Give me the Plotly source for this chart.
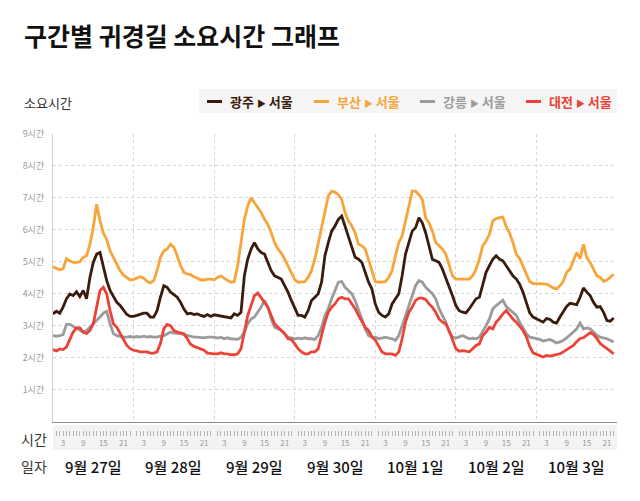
import plotly.graph_objects as go

# ---------------- data ----------------
days = ["9월 27일", "9월 28일", "9월 29일", "9월 30일", "10월 1일", "10월 2일", "10월 3일"]
hour_labels = ["3", "9", "15", "21"]
hour_label_hours = [3, 9, 15, 21]
y_ticks = [1, 2, 3, 4, 5, 6, 7, 8, 9]
y_tick_text = [f"{v}시간" for v in y_ticks]

series_names = ["광주 ▸ 서울", "부산 ▸ 서울", "강릉 ▸ 서울", "대전 ▸ 서울"]
series_colors = ["#3b1c0c", "#f7a53a", "#9b9b9b", "#eb4337"]

gwangju = [
    3.37, 3.45, 3.39, 3.58, 3.84, 3.99, 3.94, 4.06, 3.91, 4.10, 3.84, 4.51, 4.98, 5.24, 5.29, 4.88, 4.41, 4.10, 3.89, 3.73, 3.63, 3.47, 3.35, 3.29,
    3.29, 3.32, 3.35, 3.39, 3.39, 3.27, 3.27, 3.47, 3.89, 4.25, 4.20, 4.05, 3.97, 3.89, 3.73, 3.52, 3.37, 3.39, 3.35, 3.37, 3.32, 3.29, 3.35, 3.29,
    3.34, 3.32, 3.30, 3.27, 3.27, 3.24, 3.37, 3.32, 3.42, 4.56, 5.08, 5.40, 5.60, 5.40, 5.29, 5.24, 4.98, 4.72, 4.56, 4.51, 4.46, 4.25, 4.05, 3.79,
    3.53, 3.32, 3.32, 3.27, 3.47, 3.79, 3.89, 4.00, 4.36, 5.19, 5.60, 5.96, 6.12, 6.33, 6.43, 6.12, 5.81, 5.50, 5.14, 5.08, 4.98, 4.67, 4.36, 4.15,
    3.68, 3.42, 3.32, 3.27, 3.37, 3.68, 3.84, 4.00, 4.56, 5.24, 5.60, 5.96, 6.07, 6.38, 6.22, 5.91, 5.50, 5.08, 5.03, 4.98, 4.77, 4.51, 4.25, 3.94,
    3.63, 3.47, 3.42, 3.40, 3.53, 3.68, 3.84, 3.89, 4.25, 4.67, 4.88, 5.08, 5.19, 5.08, 5.03, 4.88, 4.72, 4.56, 4.46, 4.30, 4.05, 3.75, 3.40, 3.27,
    3.22, 3.16, 3.11, 3.22, 3.20, 3.11, 3.08, 3.27, 3.42, 3.60, 3.70, 3.68, 3.66, 3.89, 4.18, 4.05, 3.94, 3.73, 3.58, 3.60, 3.42, 3.16, 3.14, 3.24,
]
busan = [
    4.84, 4.80, 4.75, 4.78, 5.10, 5.03, 4.98, 4.98, 5.00, 5.14, 5.19, 5.55, 6.07, 6.80, 6.28, 5.90, 5.70, 5.34, 5.13, 4.88, 4.72, 4.58, 4.49, 4.43,
    4.45, 4.49, 4.53, 4.49, 4.39, 4.34, 4.41, 4.72, 5.14, 5.34, 5.40, 5.55, 5.45, 5.19, 4.88, 4.67, 4.62, 4.60, 4.53, 4.49, 4.43, 4.43, 4.46, 4.46,
    4.44, 4.51, 4.56, 4.48, 4.41, 4.36, 4.38, 4.88, 5.60, 6.33, 6.74, 7.00, 6.85, 6.69, 6.54, 6.33, 6.17, 5.91, 5.60, 5.40, 5.27, 5.08, 4.88, 4.67,
    4.44, 4.36, 4.36, 4.38, 4.51, 4.72, 5.08, 5.60, 6.07, 6.64, 7.06, 7.21, 7.18, 7.10, 6.95, 6.54, 6.28, 6.12, 5.91, 5.55, 5.50, 5.40, 5.08, 4.72,
    4.38, 4.36, 4.36, 4.38, 4.51, 4.72, 5.19, 5.60, 5.81, 6.33, 6.74, 7.21, 7.21, 7.10, 6.95, 6.38, 6.22, 5.96, 5.60, 5.50, 5.40, 5.24, 4.88, 4.56,
    4.46, 4.46, 4.44, 4.44, 4.46, 4.56, 4.77, 5.08, 5.50, 5.65, 5.86, 6.28, 6.35, 6.38, 6.40, 6.10, 5.90, 5.60, 5.24, 5.10, 4.85, 4.60, 4.38, 4.32,
    4.32, 4.32, 4.32, 4.30, 4.25, 4.18, 4.15, 4.25, 4.39, 4.67, 4.77, 5.03, 5.29, 5.10, 5.55, 5.13, 4.98, 4.77, 4.56, 4.51, 4.39, 4.43, 4.51, 4.61,
]
gangneung = [
    2.69, 2.67, 2.69, 2.72, 3.04, 3.04, 2.98, 2.92, 2.85, 2.80, 2.85, 2.95, 3.05, 3.15, 3.27, 3.39, 3.45, 3.06, 2.75, 2.69, 2.66, 2.64, 2.64, 2.66,
    2.64, 2.66, 2.64, 2.67, 2.64, 2.66, 2.64, 2.64, 2.67, 2.69, 2.74, 2.80, 2.77, 2.77, 2.75, 2.72, 2.69, 2.66, 2.64, 2.64, 2.62, 2.62, 2.64, 2.64,
    2.64, 2.61, 2.64, 2.59, 2.62, 2.59, 2.59, 2.57, 2.64, 2.80, 3.06, 3.21, 3.27, 3.42, 3.58, 3.79, 3.58, 3.21, 2.95, 2.90, 2.85, 2.75, 2.64, 2.62,
    2.59, 2.61, 2.59, 2.62, 2.59, 2.59, 2.57, 2.69, 2.95, 3.32, 3.53, 3.84, 4.10, 4.36, 4.38, 4.20, 4.10, 4.00, 3.79, 3.53, 3.21, 2.90, 2.69, 2.64,
    2.64, 2.59, 2.61, 2.64, 2.61, 2.59, 2.54, 2.69, 3.00, 3.32, 3.58, 3.94, 4.25, 4.41, 4.36, 4.20, 4.10, 4.00, 3.84, 3.53, 3.32, 3.11, 2.80, 2.64,
    2.61, 2.64, 2.69, 2.64, 2.59, 2.61, 2.59, 2.64, 2.80, 3.00, 3.21, 3.53, 3.63, 3.73, 3.80, 3.60, 3.50, 3.42, 3.32, 3.11, 2.95, 2.75, 2.64, 2.62,
    2.59, 2.57, 2.52, 2.54, 2.57, 2.52, 2.46, 2.49, 2.54, 2.62, 2.70, 2.80, 2.90, 3.08, 2.90, 2.93, 2.90, 2.80, 2.70, 2.64, 2.62, 2.59, 2.54, 2.49,
]
daejeon = [
    2.25, 2.21, 2.27, 2.25, 2.33, 2.59, 2.80, 2.93, 2.93, 2.80, 2.75, 2.85, 3.06, 3.58, 4.10, 4.20, 3.99, 3.47, 3.06, 2.95, 2.75, 2.54, 2.38, 2.28,
    2.23, 2.21, 2.18, 2.18, 2.18, 2.14, 2.14, 2.18, 2.44, 2.90, 3.04, 3.00, 2.85, 2.80, 2.77, 2.75, 2.59, 2.42, 2.35, 2.31, 2.28, 2.23, 2.14, 2.12,
    2.12, 2.12, 2.15, 2.12, 2.12, 2.09, 2.09, 2.12, 2.28, 2.80, 3.32, 3.63, 3.94, 4.02, 3.89, 3.73, 3.58, 3.32, 3.06, 2.95, 2.85, 2.75, 2.59, 2.57,
    2.43, 2.28, 2.18, 2.12, 2.12, 2.18, 2.18, 2.28, 2.70, 3.11, 3.42, 3.58, 3.68, 3.84, 3.89, 3.84, 3.84, 3.68, 3.53, 3.32, 3.11, 2.95, 2.85, 2.65,
    2.55, 2.38, 2.18, 2.12, 2.12, 2.12, 2.07, 2.18, 2.59, 3.11, 3.42, 3.58, 3.79, 3.86, 3.86, 3.82, 3.68, 3.58, 3.42, 3.21, 3.11, 3.06, 2.85, 2.54,
    2.28, 2.20, 2.22, 2.20, 2.18, 2.28, 2.38, 2.43, 2.69, 2.80, 2.95, 2.90, 3.11, 3.22, 3.37, 3.47, 3.32, 3.21, 3.11, 2.97, 2.85, 2.65, 2.35, 2.15,
    2.10, 2.07, 2.02, 2.07, 2.05, 2.07, 2.10, 2.12, 2.18, 2.25, 2.33, 2.38, 2.50, 2.60, 2.62, 2.70, 2.78, 2.72, 2.60, 2.44, 2.35, 2.28, 2.20, 2.12,
]
series_values = [gwangju, busan, gangneung, daejeon]

# ---------------- layout helpers ----------------
# the page body has an 8px margin, so the figure is drawn 8px in from the window corner
OFF = 8
W, H = 640 - OFF, 501 - OFF
PLOT_L, PLOT_R, PLOT_T, PAPER_B = 53, 617, 134, 471   # window pixel positions
ML, MR, MT = PLOT_L - OFF, 640 - PLOT_R, PLOT_T - OFF
MB = H - (PAPER_B - OFF)
PW = W - ML - MR
PH = H - MT - MB
FONT = "Noto Sans CJK KR"


def px_x(px):
    return (px - PLOT_L) / PW


def px_y(py):
    return (PAPER_B - py) / PH


n_hours = 24 * len(days)
hours = list(range(n_hours))

fig = go.Figure()
draw_order = [1, 0, 2, 3]
for i in draw_order:
    fig.add_trace(go.Scatter(
        x=hours, y=series_values[i], mode="lines", name=series_names[i],
        line=dict(color=series_colors[i], width=2.8), showlegend=False,
        hoverinfo="skip",
    ))
# dummy trace on the hour-tick axis
fig.add_trace(go.Scatter(x=[0], y=[None], xaxis="x2", yaxis="y", showlegend=False, hoverinfo="skip"))

# hour ticks (each hour except the day boundary)
hour_tickvals, hour_ticktext = [], []
for d in range(len(days)):
    for h in range(1, 24):
        hour_tickvals.append(d * 24 + h)
        hour_ticktext.append(hour_labels[hour_label_hours.index(h)] if h in hour_label_hours else "")

shapes = [
    dict(type="rect", xref="paper", yref="paper", x0=0, x1=1, y0=px_y(450), y1=px_y(425),
         fillcolor="#f3f3f3", line=dict(width=0), layer="below"),
    dict(type="rect", xref="paper", yref="paper", x0=px_x(199), x1=1, y0=px_y(113), y1=px_y(89),
         fillcolor="#f5f5f5", line=dict(width=0), layer="below"),
]
annotations = [
    dict(text="<b>구간별 귀경길 소요시간 그래프</b>", xref="paper", yref="paper", x=px_x(22), y=px_y(35),
         xanchor="left", yanchor="middle", showarrow=False, font=dict(family=FONT, size=25, color="#111")),
    dict(text="소요시간", xref="paper", yref="paper", x=px_x(22), y=px_y(102),
         xanchor="left", yanchor="middle", showarrow=False, font=dict(family=FONT, size=13, color="#333")),
    dict(text="시간", xref="paper", yref="paper", x=px_x(34), y=px_y(439),
         xanchor="center", yanchor="middle", showarrow=False, font=dict(family=FONT, size=14, color="#333")),
    dict(text="일자", xref="paper", yref="paper", x=px_x(34), y=px_y(466),
         xanchor="center", yanchor="middle", showarrow=False, font=dict(family=FONT, size=14, color="#333")),
]
for d, label in enumerate(days):
    annotations.append(dict(text=label, xref="x", yref="paper", x=d * 24 + 12, y=px_y(466),
                            xanchor="center", yanchor="middle", showarrow=False,
                            font=dict(family=FONT, size=15, color="#111", weight=500)))

# custom legend
legend_line_px = [207, 314, 420, 526]
for i, name in enumerate(series_names):
    x0 = legend_line_px[i]
    shapes.append(dict(type="line", xref="paper", yref="paper", x0=px_x(x0), x1=px_x(x0 + 15),
                       y0=px_y(101.5), y1=px_y(101.5), line=dict(color=series_colors[i], width=3)))
    a, b = name.split(" ▸ ")
    txt = f"<b>{a} <span style='font-size:9px'>▶</span> {b}</b>"
    annotations.append(dict(text=txt, xref="paper", yref="paper", x=px_x(x0 + 21), y=px_y(101),
                            xanchor="left", yanchor="middle", showarrow=False,
                            font=dict(family=FONT, size=13, color=series_colors[i])))

fig.update_layout(
    width=W, height=H, margin=dict(l=ML, r=MR, t=MT, b=MB),
    paper_bgcolor="white", plot_bgcolor="white",
    font=dict(family=FONT),
    xaxis=dict(range=[0, n_hours], tickvals=[24 * d for d in range(len(days) + 1)],
               showticklabels=False, ticks="", showgrid=True, gridcolor="#d6d6d6", griddash="dot",
               gridwidth=1, showline=True, linecolor="#8c8c8c", linewidth=1, zeroline=False),
    xaxis2=dict(range=[0, n_hours], overlaying="x", anchor="free", position=px_y(430), side="bottom",
                tickvals=hour_tickvals, ticktext=hour_ticktext, ticks="outside", ticklen=5,
                tickcolor="#b5b5b5", tickwidth=1, showline=False, showgrid=False, zeroline=False,
                tickfont=dict(family=FONT, size=8, color="#9a9a9a")),
    yaxis=dict(domain=[px_y(421.5), 1], range=[0, 9], tickvals=y_ticks, ticktext=y_tick_text,
               showgrid=True, gridcolor="#d6d6d6", griddash="dot", gridwidth=1,
               showline=True, linecolor="#cfcfcf", linewidth=1, zeroline=False, ticks="",
               ticklabelstandoff=6, tickfont=dict(family=FONT, size=9, color="#999")),
    shapes=shapes, annotations=annotations, showlegend=False,
)

fig.write_html("out.html")
